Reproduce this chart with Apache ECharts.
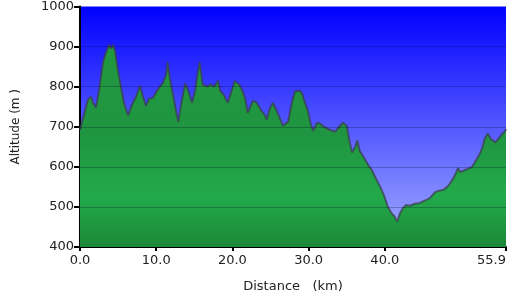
<!DOCTYPE html>
<html>
<head>
<meta charset="utf-8">
<script src="https://cdn.jsdelivr.net/npm/echarts@6/dist/echarts.min.js"></script>
<style>
html,body{margin:0;padding:0;background:#fff;}
#c{width:510px;height:300px;}
</style>
</head>
<body>
<div id="c"></div>
<script>
// distance (km)
const distance = [0.0,0.52,1.05,1.44,1.71,2.1,2.49,3.02,3.41,3.81,4.07,4.33,4.59,4.99,5.25,5.77,6.3,6.82,7.35,7.87,8.27,8.66,9.06,9.58,10.1,10.5,10.9,11.3,11.5,11.8,12.2,12.6,12.9,13.3,13.8,14.2,14.7,15.1,15.5,15.7,16.1,16.7,17.1,17.6,18.1,18.4,18.9,19.4,19.9,20.3,20.9,21.3,21.7,22.0,22.7,23.2,23.8,24.3,24.5,24.9,25.3,25.8,26.2,26.6,27.3,27.8,28.2,28.7,29.1,29.5,29.9,30.3,30.6,31.1,31.5,32.0,32.5,33.1,33.5,34.0,34.5,35.0,35.4,35.7,36.1,36.4,36.7,37.3,37.8,38.3,38.8,39.4,39.9,40.4,40.9,41.3,41.6,42.0,42.4,42.8,43.3,43.9,44.6,45.0,45.5,45.9,46.6,47.2,47.6,48.2,48.6,49.1,49.6,49.9,50.5,51.0,51.4,51.8,52.4,52.8,53.1,53.5,53.9,54.5,55.1,55.8,55.9];
// altitude (m)
const altitude = [692,730,768,775,760,748,790,862,885,905,895,905,890,840,812,760,728,755,775,802,775,752,770,772,790,800,810,830,862,820,780,740,712,760,808,790,760,790,840,862,806,800,806,800,815,790,778,760,790,814,805,790,768,735,765,760,740,728,718,745,760,740,722,703,712,760,788,790,785,762,740,705,690,710,708,700,695,690,688,700,710,703,660,636,650,666,640,622,605,592,572,550,528,500,484,476,463,485,498,505,503,508,510,514,518,522,537,541,542,550,560,575,597,587,592,596,599,611,630,648,670,683,670,661,675,690,695];
const xTicks = [0, 10, 20, 30, 40, 55.9];
const yGrid = [500, 600, 700, 800, 900];

const chart = echarts.init(document.getElementById('c'), null, {renderer: 'canvas'});
const font = 'DejaVu Sans';
chart.setOption({
  animation: false,
  grid: {
    left: 80, right: 4, top: 5, bottom: 53,
    show: true,
    borderWidth: 0,
    backgroundColor: {
      type: 'linear', x: 0, y: 0, x2: 0, y2: 1,
      colorStops: [
        {offset: 0, color: 'rgb(0,0,255)'},
        {offset: 1, color: 'rgb(165,175,255)'}
      ]
    }
  },
  xAxis: {
    type: 'value', min: 0, max: 55.9,
    name: 'Distance   (km)', nameLocation: 'middle', nameGap: 33,
    nameTextStyle: {fontFamily: font, fontSize: 13, color: '#222'},
    axisLine: {show: true, onZero: false, lineStyle: {color: '#000', width: 2}},
    axisTick: {show: true, customValues: xTicks, length: 4, lineStyle: {color: '#000', width: 2}},
    axisLabel: {customValues: xTicks, fontFamily: font, fontSize: 13, color: '#222', margin: 7,
      alignMaxLabel: 'right',
      formatter: v => Number(v).toFixed(1)},
    splitLine: {show: false}
  },
  yAxis: {
    type: 'value', min: 400, max: 1000, interval: 100,
    name: 'Altitude (m )', nameLocation: 'middle', nameGap: 58,
    nameTextStyle: {fontFamily: font, fontSize: 12, color: '#222'},
    axisLine: {show: true, lineStyle: {color: '#000', width: 2}},
    axisTick: {show: true, length: 6, lineStyle: {color: '#000', width: 2}},
    axisLabel: {fontFamily: font, fontSize: 13, color: '#222', margin: 6,
      formatter: v => String(v)},
    splitLine: {show: false}
  },
  series: [{
    type: 'line',
    data: distance.map((d, i) => [d, altitude[i]]),
    showSymbol: false,
    symbol: 'none',
    lineStyle: {color: 'rgba(60,60,75,0.7)', width: 2},
    areaStyle: {
      origin: 'start',
      opacity: 1,
      color: {
        type: 'linear', x: 0, y: 0, x2: 0, y2: 1,
        colorStops: [
          {offset: 0, color: '#21983f'},
          {offset: 0.45, color: '#1f9541'},
          {offset: 0.75, color: '#23aa4a'},
          {offset: 1, color: '#1b8838'}
        ]
      }
    },
    markLine: {
      silent: true,
      symbol: 'none',
      label: {show: false},
      lineStyle: {color: 'rgba(0,0,40,0.25)', width: 1, type: 'solid'},
      data: yGrid.map(v => ({yAxis: v}))
    }
  }]
});
</script>
</body>
</html>
